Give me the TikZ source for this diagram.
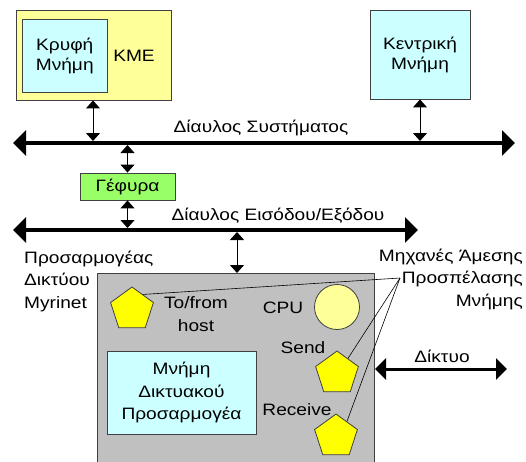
\documentclass[tikz,border=0pt]{standalone}
\usepackage{fontspec}
\setmainfont{Liberation Sans}[FakeStretch=1.16]
\usetikzlibrary{arrows.meta,shapes.geometric}
\definecolor{cpuyellow}{HTML}{FFFF99}
\definecolor{memcyan}{HTML}{CCFFFF}
\definecolor{bridgegreen}{HTML}{99FF66}
\definecolor{nicgray}{HTML}{C0C0C0}
\definecolor{dmayellow}{HTML}{FFFF00}
\definecolor{edge}{HTML}{404040}
\begin{document}
\begin{tikzpicture}[x=1pt,y=-1pt,
  font=\fontsize{16.5}{22.5}\selectfont,
  box/.style={draw=edge,line width=0.9pt,inner sep=0pt,align=center},
  lbl/.style={inner sep=0pt,align=center},
  tight/.style={font=\fontsize{16.5}{20}\selectfont},
  bus/.style={line width=4pt,{Triangle[length=13pt,width=25pt]}-{Triangle[length=13pt,width=25pt]}},
  netline/.style={line width=3pt,{Triangle[length=11pt,width=21pt]}-{Triangle[length=11pt,width=21pt]}},
  conn/.style={line width=1pt,{Triangle[length=8pt,width=14pt]}-{Triangle[length=8pt,width=14pt]}},
  dma/.style={regular polygon,regular polygon sides=5,minimum size=45pt,inner sep=0pt,
    draw=edge,line width=0.8pt,fill=dmayellow},
  pointer/.style={line width=0.6pt}]
\useasboundingbox (0,0) rectangle (526,461);
\clip (0,0) rectangle (526,461);

% processor with its cache
\node[box,fill=cpuyellow,minimum width=155pt,minimum height=90pt] (cpu) at (93.5,55) {};
\node[box,tight,fill=memcyan,minimum width=84.5pt,minimum height=73pt] (cache) at (64.75,56) {Κρυφή\\Μνήμη};
\node[lbl] (kme) at (134,56) {KME};

% main memory
\node[box,tight,fill=memcyan,minimum width=100pt,minimum height=89pt] (mainmem) at (420,54.5) {Κεντρική\\Μνήμη};

% system bus
\coordinate (sysL) at (13,143);
\coordinate (sysR) at (515,143);
\draw[bus] (sysL) -- (sysR);
\node[lbl] (syslbl) at (261,128) {Δίαυλος Συστήματος};
\coordinate (sysCpu) at (93,141);
\coordinate (sysMem) at (420,141);
\coordinate (sysBr) at (127.5,145);
\draw[conn] (cpu.south -| sysCpu) -- (sysCpu);
\draw[conn] (mainmem.south) -- (sysMem);

% bridge
\node[box,fill=bridgegreen,minimum width=95pt,minimum height=27pt] (bridge) at (127.5,186.5) {Γέφυρα};
\draw[conn] (sysBr) -- (bridge.north);

% I/O bus
\coordinate (ioL) at (13,230);
\coordinate (ioR) at (418,230);
\draw[bus] (ioL) -- (ioR);
\node[lbl] (iolbl) at (278,216) {Δίαυλος Εισόδου/Εξόδου};
\coordinate (ioBr) at (127.5,228);
\coordinate (ioNic) at (237,232);
\draw[conn] (bridge.south) -- (ioBr);

% Myrinet network adapter
\node[box,fill=nicgray,minimum width=277pt,minimum height=200pt,anchor=north west] (nic) at (97,273) {};
\draw[conn] (ioNic) -- (nic.north -| ioNic);
\node[lbl,align=left,anchor=west] (niclbl) at (24,281) {Προσαρμογέας\\Δικτύου\\Myrinet};

\node[box,fill=memcyan,minimum width=149pt,minimum height=83pt] (nicmem) at (181.5,392.5) {Μνήμη\\Δικτυακού\\Προσαρμογέα};
\node[circle,draw=edge,line width=0.8pt,fill=cpuyellow,minimum size=45pt,inner sep=0pt] (niccpu) at (337,307) {};
\node[lbl] (cpulbl) at (283,308) {CPU};

\node[dma] (host) at (132,309.5) {};
\node[dma] (send) at (337,373.5) {};
\node[dma] (recv) at (336,436.5) {};
\node[lbl] (hostlbl) at (196,314) {To/from\\host};
\node[lbl] (sendlbl) at (303,348) {Send};
\node[lbl] (recvlbl) at (297,410) {Receive};

% network link
\coordinate (netL) at (375,369);
\coordinate (netR) at (507,369);
\draw[netline] (netL) -- (netR);
\node[lbl] (netlbl) at (442,356) {Δίκτυο};

% DMA engines callout
\node[lbl,align=right,anchor=east] (dmalbl) at (523,279) {Μηχανές Άμεσης\\Προσπέλασης\\Μνήμης};
\coordinate (dmaJoin) at (400,278);
\draw[pointer] (dmaJoin) -- (host.54);
\draw[pointer] (dmaJoin) -- (send.54);
\draw[pointer] (dmaJoin) -- (recv.54);
\end{tikzpicture}
\end{document}
